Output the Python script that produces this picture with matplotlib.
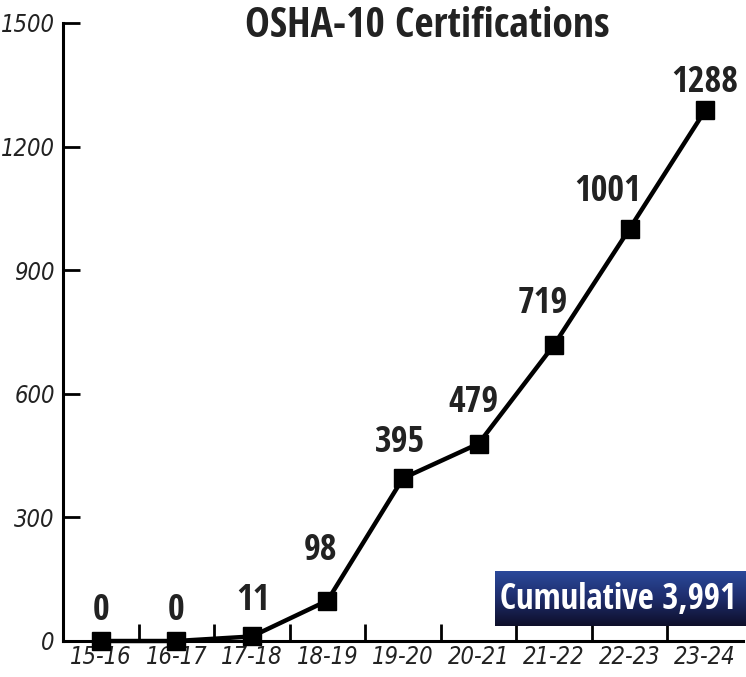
import numpy as np
import matplotlib
matplotlib.use('Agg')
import matplotlib.pyplot as plt
from matplotlib import font_manager
from matplotlib.font_manager import FontProperties

# data
years = ['15-16', '16-17', '17-18', '18-19', '19-20', '20-21', '21-22', '22-23', '23-24']
certs = [0, 0, 11, 98, 395, 479, 719, 1001, 1288]
total_label = 'Cumulative 3,991'

# label nudges in pixels (dx, dy to the baseline) so they sit like the original
label_offsets = [(0, 21), (0, 21), (1, 26), (-7, 41), (-3, 26), (-5, 32), (-11, 32), (-22, 28), (0, 18)]

plt.rcParams['font.family'] = ['Open Sans Condensed', 'DejaVu Sans']

# light italic condensed face for the tick labels, picked by file
italic_files = [f for f in font_manager.fontManager.ttflist
                if f.name == 'Open Sans Condensed' and f.style == 'italic']
if italic_files:
    tick_font = FontProperties(fname=italic_files[0].fname, size=19)
else:
    tick_font = FontProperties(family=['DejaVu Sans'], style='italic', stretch='condensed', size=17)

fig = plt.figure(figsize=(7.46, 6.77), dpi=100)
ax = fig.add_axes([63 / 746, 36 / 677, 680 / 746, 618 / 677])

x = np.arange(len(years))
ax.plot(x, certs, color='black', lw=3.2, marker='s', ms=13.5, mfc='black', mec='black',
        zorder=3, clip_on=False)

for xi, v, (dx, dy) in zip(x, certs, label_offsets):
    ax.annotate(str(v), (xi, v), xytext=(dx, dy), textcoords='offset pixels',
                ha='center', va='baseline', fontsize=26, fontweight='bold', color='#222222')

ax.set_xlim(-0.5, len(years) - 0.5)
ax.set_ylim(0, 1500)
ax.set_yticks(range(0, 1501, 300))
ax.set_yticklabels([str(t) for t in range(0, 1501, 300)], fontproperties=tick_font, color='#222222')
ax.set_xticks(x)
ax.set_xticklabels(years, fontproperties=tick_font, color='#222222')
ax.set_xticks(np.arange(0.5, len(years) - 0.5), minor=True)
ax.tick_params(axis='x', which='major', length=0, pad=3)
ax.tick_params(axis='x', which='minor', direction='in', length=12, width=2)
ax.tick_params(axis='y', direction='in', length=12, width=2, pad=6)

for s in ['top', 'right']:
    ax.spines[s].set_visible(False)
for s in ['left', 'bottom']:
    ax.spines[s].set_linewidth(2.2)

fig.text(427 / 746, (677 - 37) / 677, 'OSHA-10 Certifications', ha='center', va='baseline',
         fontsize=30, fontweight='bold', color='#222222')

# navy gradient box for the cumulative total
bax = fig.add_axes([495 / 746, (677 - 626) / 677, 251 / 746, 55 / 677])
grad = np.linspace(0, 1, 100).reshape(-1, 1)
cmap = matplotlib.colors.LinearSegmentedColormap.from_list('navy', ['#2b4a9c', '#1e2d6c', '#0e0f2a'])
bax.imshow(grad, aspect='auto', cmap=cmap, extent=[0, 1, 0, 1], origin='upper')
bax.set_axis_off()
bax.text(0.49, 0.47, total_label, ha='center', va='center', color='white',
         fontsize=25, fontweight='bold', transform=bax.transAxes)

fig.savefig('out.png', dpi=100)
